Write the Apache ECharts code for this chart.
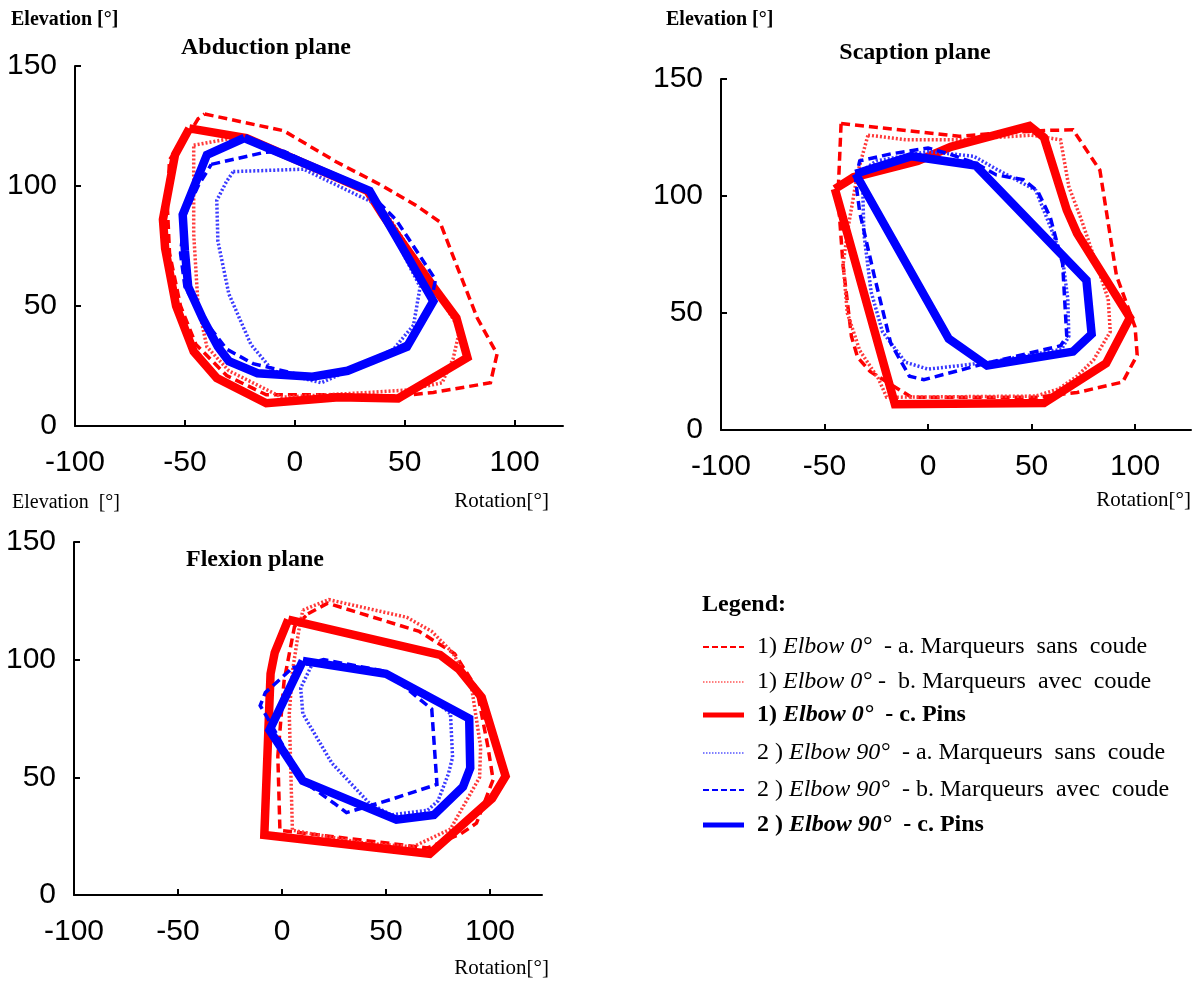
<!DOCTYPE html>
<html>
<head>
<meta charset="utf-8">
<script src="https://cdn.jsdelivr.net/npm/echarts@6/dist/echarts.min.js"></script>
<style>
html,body{margin:0;padding:0;background:#fff;}
#chart{width:1198px;height:981px;}
</style>
</head>
<body>
<div id="chart"></div>
<script>
// ---------- tick labels ----------
const xTickLabels = [-100, -50, 0, 50, 100];
const xTickMarks = [-50, 0, 50, 100];
const yTickLabels = [0, 50, 100, 150];
const yTickMarks = [50, 100, 150];

// ---------- Abduction plane ----------
const abdRedDashed = [[-41,130],[-5,123],[19,110],[40,100],[55,92],[66,85],[74,66],[83,45],[92,30],[89,18],[63,14],[47,12.5],[20,13],[-13,13],[-31,21],[-45,34],[-52,50],[-57,72],[-58,92],[-57,111],[-46,125],[-44,128]];
const abdRedDotted = [[-46,117],[-28,120],[-22,119.5],[33,97.5],[42,88],[64,57],[75,40],[72,28],[67,18],[51,15],[34,14],[-6,12],[-30,23],[-40,33],[-44,50],[-46,80],[-46,100]];
const abdRedSolid = [[-48,124],[-22,120],[33,98],[40,88],[63,58],[73.5,45],[78.5,28.5],[47,11.5],[20,12],[-13,9.5],[-35.5,20],[-46,31],[-54,50],[-59,74],[-60,86],[-54.5,113]];
const abdBlueDotted = [[-28,106],[4,107],[38,92],[57,58],[54,42],[44,31],[12,18],[-10,23],[-20,34],[-30,55],[-35,77],[-35.5,94],[-31,102]];
const abdBlueDashed = [[-38,109],[-14,114],[-5,114.5],[34,97],[46,86],[64,61],[62,52],[52,35],[24,23],[8,20],[-19,26],[-31,32],[-42,45],[-50,58],[-52,72],[-50,88],[-44,100]];
const abdBlueSolid = [[-23,120],[34,98],[63,52],[51,33],[24,23],[8,20.5],[-17,22],[-30,27],[-35,33],[-42,45],[-48.5,58],[-50,73],[-51,88],[-40,113]];

// ---------- Scaption plane ----------
const scaRedDashed = [[-42,131],[15,125.5],[35,127],[57,128],[70,128.3],[77,119],[83,111],[91,66],[100,44],[101,32],[94,20.5],[72,16],[52,14],[-8,14],[-28,25],[-34,31],[-37,40],[-41,70],[-43.5,100]];
const scaRedDotted = [[-29,126],[-10,124],[15,124],[50,126],[64,124],[68,104],[74,90],[87,56],[88,42],[80,30],[72,23],[63,17.5],[52,14.5],[-20,14],[-24,22],[-33,34],[-39,50],[-41,71],[-38.5,87],[-34,110]];
const scaRedSolid = [[-45,103],[-36,108],[-5,115],[11,121],[49,130],[56,125],[67,94],[72,84],[97.5,48],[86,28.5],[56,11.5],[-16,11]];
const scaBlueDotted = [[-33,110],[-25,115],[0,119],[22,117],[34,111],[52,102.5],[59,87],[65,73],[67.5,56],[68,40],[64.5,34.5],[30,29],[0,26],[-11,29],[-22,42],[-27.5,59],[-31,84],[-31.5,102]];
const scaBlueDashed = [[-35,107],[-33,115],[-18,118],[0,120.5],[10,118],[23,114],[33,109],[46,107],[53,102],[59,91],[65,71],[67,40],[64,36],[28,28.5],[-2,21.5],[-9,23],[-18,37],[-26,66],[-33,93]];
const scaBlueSolid = [[-35,109.5],[-8,117],[23,113],[76.5,64],[79,41],[70,33.5],[28.5,27.5],[10,39]];

// ---------- Flexion plane ----------
const flxRedDashed = [[12.5,119.5],[22,124],[66,112],[83,102.5],[93.5,88],[99,63],[101.5,49],[93.5,30.5],[86,26],[70,20],[-1,27.5],[-2,59],[1,91],[6,114]];
const flxRedDotted = [[10,121],[22.5,125.5],[60,118],[72,112],[82,103],[91,89],[95.5,63],[95,50],[81,28],[63,20.5],[40,22],[5,27.5],[3.5,77],[5,95],[8,112]];
const flxRedSolid = [[3,117],[76,102],[85,96],[96,84],[107.5,50.5],[101,41],[71,17.5],[-8.5,25.5],[-5.5,94],[-3.5,103]];
const flxBlueDotted = [[15,99],[50,94.5],[70,85.5],[81,77],[82,58.5],[80,51.5],[75,40],[70,36],[52.5,34],[42,39],[24,56],[10,77],[9,88]];
const flxBlueDashed = [[5,96.5],[20,100],[50,95],[72,79],[74.5,47],[52,40.5],[31,35],[25,39],[10,48.5],[-6.5,74.5],[-10.5,80.5],[-8,86]];
const flxBlueSolid = [[10,99.5],[50,94],[90,75],[90.5,54],[87,46],[73,34],[55,32],[10,48.5],[-6,70]];

// ---------- legend texts ----------
const legendTitle = 'Legend:';
const legendNames = [
  ['1) ', 'Elbow 0°', '  - a. Marqueurs  sans  coude'],
  ['1) ', 'Elbow 0°', ' -  b. Marqueurs  avec  coude'],
  ['1) ', 'Elbow 0°', '  - c. Pins'],
  ['2 ) ', 'Elbow 90°', '  - a. Marqueurs  sans  coude'],
  ['2 ) ', 'Elbow 90°', '  - b. Marqueurs  avec  coude'],
  ['2 ) ', 'Elbow 90°', '  - c. Pins']
];

// ---------- styles ----------
const RED = '#ff0000', BLUE = '#0000ff';
const seriesStyles = [
  {color: RED,  width: 3.5, type: [9, 5]},       // 1a dashed
  {color: '#ff3a3a', width: 3.5, type: [2, 2]},  // 1b dotted
  {color: RED,  width: 8.5, type: 'solid'},      // 1c solid
  {color: '#3a3aff', width: 3.5, type: [2, 2]},  // 2a dotted
  {color: BLUE, width: 3.5, type: [9, 5]},       // 2b dashed
  {color: BLUE, width: 8.5, type: 'solid'}       // 2c solid
];
const legendStyles = [
  {color: RED, width: 2, dash: [6, 3]},
  {color: RED, width: 1.2, dash: [1.5, 1.5]},
  {color: RED, width: 5, dash: null},
  {color: BLUE, width: 1.2, dash: [1.5, 1.5]},
  {color: BLUE, width: 2, dash: [6, 3]},
  {color: BLUE, width: 5, dash: null}
];
const boldEntries = [false, false, true, false, false, true];

const panels = [
  {grid: {left: 75, top: 66, width: 488, height: 360}, xMax: 122,
   data: [abdRedDashed, abdRedDotted, abdRedSolid, abdBlueDotted, abdBlueDashed, abdBlueSolid]},
  {grid: {left: 721, top: 79, width: 470, height: 351}, xMax: 127,
   data: [scaRedDashed, scaRedDotted, scaRedSolid, scaBlueDotted, scaBlueDashed, scaBlueSolid]},
  {grid: {left: 74, top: 542, width: 468, height: 353}, xMax: 125,
   data: [flxRedDashed, flxRedDotted, flxRedSolid, flxBlueDotted, flxBlueDashed, flxBlueSolid]}
];

const NUMFONT = "'Liberation Sans',Arial,sans-serif";
const SERIF = "'Liberation Serif','Times New Roman',serif";

function closeLoop(arr) { return arr.concat([arr[0]]); }

const grids = [], xAxes = [], yAxes = [], series = [];
panels.forEach((p, i) => {
  grids.push(Object.assign({containLabel: false}, p.grid));
  xAxes.push({
    type: 'value', gridIndex: i, min: -100, max: p.xMax, interval: 50,
    axisLine: {show: true, onZero: false, lineStyle: {color: '#000', width: 2}},
    axisTick: {show: true, inside: true, length: 6, lineStyle: {color: '#000', width: 2}, customValues: xTickMarks},
    axisLabel: {show: true, margin: 22, color: '#000', fontSize: 30, fontFamily: NUMFONT, customValues: xTickLabels},
    splitLine: {show: false}
  });
  yAxes.push({
    type: 'value', gridIndex: i, min: 0, max: 150, interval: 50,
    axisLine: {show: true, onZero: false, lineStyle: {color: '#000', width: 2}},
    axisTick: {show: true, inside: true, length: 6, lineStyle: {color: '#000', width: 2}, customValues: yTickMarks},
    axisLabel: {show: true, margin: 18, color: '#000', fontSize: 30, fontFamily: NUMFONT, customValues: yTickLabels},
    splitLine: {show: false}
  });
  p.data.forEach((arr, k) => {
    const s = seriesStyles[k];
    series.push({
      type: 'line', xAxisIndex: i, yAxisIndex: i,
      data: closeLoop(arr), showSymbol: false, symbol: 'none',
      smooth: false, silent: true, z: 2 + k,
      lineStyle: {color: s.color, width: s.width, type: s.type, join: 'miter', cap: 'butt'}
    });
  });
});

// ---------- graphic texts ----------
const graphics = [];
function txt(text, x, y, font, align) {
  graphics.push({type: 'text', x: x, y: y, silent: true,
    style: {text: text, font: font, fill: '#000', textAlign: align || 'left', textVerticalAlign: 'middle'}});
}
txt('Elevation [°]', 11, 20, "bold 20px " + SERIF);
txt('Abduction plane', 266, 48, "bold 24px " + SERIF, 'center');
txt('Elevation [°]', 666, 20, "bold 20px " + SERIF);
txt('Scaption plane', 915, 53, "bold 24px " + SERIF, 'center');
txt('Elevation  [°]', 12, 503, "20px " + SERIF);
txt('Rotation[°]', 549, 501, "21px " + SERIF, 'right');
txt('Rotation[°]', 1191, 500, "21px " + SERIF, 'right');
txt('Flexion plane', 255, 560, "bold 24px " + SERIF, 'center');
txt('Rotation[°]', 549, 968, "21px " + SERIF, 'right');
txt(legendTitle, 702, 605, "bold 24px " + SERIF);

const legendY = [647, 682, 715, 753, 790, 825];
legendNames.forEach((parts, i) => {
  const ls = legendStyles[i];
  graphics.push({type: 'line', silent: true,
    shape: {x1: 703, y1: legendY[i], x2: 744, y2: legendY[i]},
    style: {stroke: ls.color, lineWidth: ls.width, lineDash: ls.dash}});
  const b = boldEntries[i] ? 'bold ' : '';
  graphics.push({type: 'text', x: 757, y: legendY[i], silent: true,
    style: {
      text: '{n|' + parts[0] + '}{i|' + parts[1] + '}{n|' + parts[2] + '}',
      textVerticalAlign: 'middle',
      rich: {
        n: {font: b + "24px " + SERIF, fill: '#000'},
        i: {font: 'italic ' + b + "24px " + SERIF, fill: '#000'}
      }
    }});
});

const chart = echarts.init(document.getElementById('chart'), null, {renderer: 'canvas'});
chart.setOption({
  animation: false,
  backgroundColor: '#fff',
  grid: grids, xAxis: xAxes, yAxis: yAxes, series: series,
  graphic: graphics
});
</script>
</body>
</html>
